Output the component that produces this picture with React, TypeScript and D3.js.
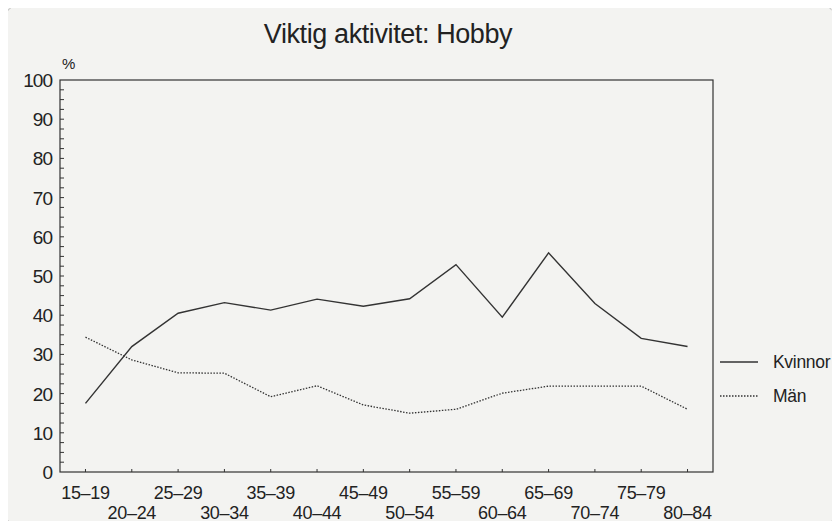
import React, { useEffect, useRef } from "react";
import * as d3 from "d3";

const ageGroups = [
  "15–19", "20–24", "25–29", "30–34", "35–39", "40–44", "45–49",
  "50–54", "55–59", "60–64", "65–69", "70–74", "75–79", "80–84",
];
const kvinnor = [17.5, 32, 40.5, 43.2, 41.3, 44.1, 42.3, 44.2, 52.9, 39.5, 55.9, 43.0, 34.1, 32.0];
const man = [34.4, 28.6, 25.3, 25.2, 19.2, 22.0, 17.1, 15.0, 16.0, 20.1, 21.9, 21.9, 21.9, 16.0];
const yTickLabels = [0, 10, 20, 30, 40, 50, 60, 70, 80, 90, 100];

const W = 840;
const H = 529;
const margin = { left: 60, right: 127, top: 80, bottom: 57 };
const font = "'Liberation Sans', Arial, sans-serif";

export default function App() {
  const svgRef = useRef<SVGSVGElement | null>(null);

  useEffect(() => {
    const svg = d3.select(svgRef.current);
    svg.selectAll("*").remove();

    const innerW = W - margin.left - margin.right;
    const innerH = H - margin.top - margin.bottom;

    const x = d3
      .scalePoint<string>()
      .domain(ageGroups)
      .range([margin.left, margin.left + innerW])
      .padding(0.55);
    const y = d3
      .scaleLinear()
      .domain([0, 100])
      .range([margin.top + innerH, margin.top]);

    svg.append("rect").attr("width", W).attr("height", H).attr("fill", "#f3f3f1");
    svg
      .append("rect")
      .attr("x", 5)
      .attr("y", 5)
      .attr("width", W - 10)
      .attr("height", H - 8)
      .attr("rx", 14)
      .attr("fill", "none")
      .attr("stroke", "#b8b8b8")
      .attr("stroke-dasharray", "6 2");

    // title
    svg
      .append("text")
      .attr("x", 388)
      .attr("y", 43)
      .attr("text-anchor", "middle")
      .attr("font-family", font)
      .attr("font-size", 27)
      .attr("letter-spacing", -0.4)
      .attr("fill", "#222")
      .text("Viktig aktivitet: Hobby");

    // plot frame
    svg
      .append("rect")
      .attr("x", margin.left)
      .attr("y", margin.top)
      .attr("width", innerW)
      .attr("height", innerH)
      .attr("fill", "none")
      .attr("stroke", "#333")
      .attr("stroke-width", 1.2);

    // y ticks every 2.5
    const minor = d3.range(2.5, 100, 2.5);
    svg
      .append("g")
      .selectAll("line")
      .data(minor)
      .join("line")
      .attr("x1", margin.left)
      .attr("x2", margin.left + 4)
      .attr("y1", (d) => y(d))
      .attr("y2", (d) => y(d))
      .attr("stroke", "#333");

    svg
      .append("g")
      .selectAll("text")
      .data(yTickLabels)
      .join("text")
      .attr("x", margin.left - 8)
      .attr("y", (d) => y(d) + 7)
      .attr("text-anchor", "end")
      .attr("font-family", font)
      .attr("font-size", 19)
      .attr("letter-spacing", -1)
      .attr("fill", "#222")
      .text((d) => d);

    svg
      .append("text")
      .attr("x", margin.left + 2)
      .attr("y", margin.top - 11)
      .attr("font-family", font)
      .attr("font-size", 15)
      .attr("fill", "#222")
      .text("%");

    // x ticks and labels
    svg
      .append("g")
      .selectAll("line")
      .data(ageGroups)
      .join("line")
      .attr("x1", (d) => x(d)!)
      .attr("x2", (d) => x(d)!)
      .attr("y1", margin.top + innerH)
      .attr("y2", margin.top + innerH - 3)
      .attr("stroke", "#333");

    svg
      .append("g")
      .selectAll("text")
      .data(ageGroups)
      .join("text")
      .attr("x", (d) => x(d)!)
      .attr("y", (d, i) => margin.top + innerH + (i % 2 === 0 ? 27 : 47))
      .attr("text-anchor", "middle")
      .attr("font-family", font)
      .attr("font-size", 18)
      .attr("letter-spacing", -0.3)
      .attr("fill", "#222")
      .text((d) => d);

    const line = d3
      .line<number>()
      .x((_, i) => x(ageGroups[i])!)
      .y((d) => y(d));

    svg
      .append("path")
      .datum(kvinnor)
      .attr("d", line)
      .attr("fill", "none")
      .attr("stroke", "#333")
      .attr("stroke-width", 1.4);

    svg
      .append("path")
      .datum(man)
      .attr("d", line)
      .attr("fill", "none")
      .attr("stroke", "#333")
      .attr("stroke-width", 1.3)
      .attr("stroke-dasharray", "1.5 1.5");

    // legend
    const legend = [
      { name: "Kvinnor", dash: null, y: 362 },
      { name: "Män", dash: "1.5 1.5", y: 396 },
    ];
    legend.forEach((l) => {
      svg
        .append("line")
        .attr("x1", 720)
        .attr("x2", 758)
        .attr("y1", l.y)
        .attr("y2", l.y)
        .attr("stroke", "#333")
        .attr("stroke-width", 1.3)
        .attr("stroke-dasharray", l.dash);
      svg
        .append("text")
        .attr("x", 773)
        .attr("y", l.y + 6)
        .attr("font-family", font)
        .attr("font-size", 17.5)
        .attr("letter-spacing", -0.3)
        .attr("fill", "#222")
        .text(l.name);
    });
  }, []);

  return (
    <div style={{ margin: -8 }}>
      <svg ref={svgRef} width={W} height={H} style={{ display: "block" }} />
    </div>
  );
}
